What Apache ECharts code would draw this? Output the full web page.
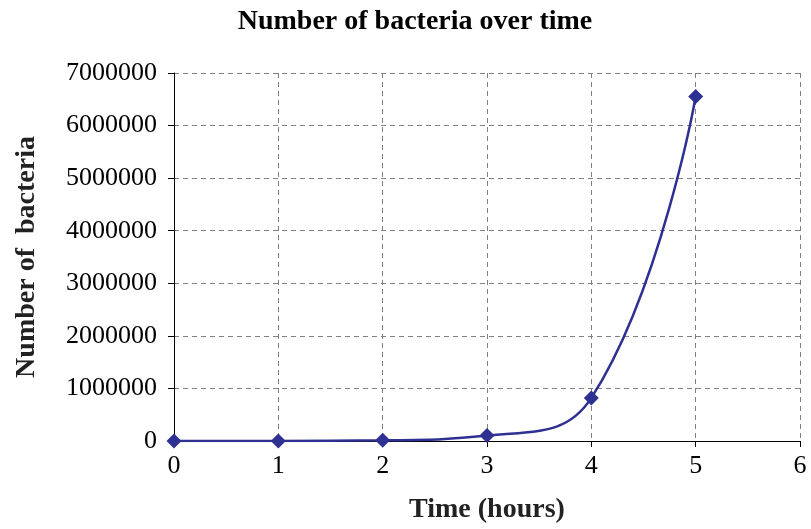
<!DOCTYPE html>
<html>
<head>
<meta charset="utf-8">
<script src="https://cdn.jsdelivr.net/npm/echarts@6/dist/echarts.min.js"></script>
<style>
  html, body { margin: 0; padding: 0; background: #fff; }
  #chart { width: 811px; height: 529px; }
</style>
</head>
<body>
<div id="chart"></div>
<script>
var hours = [0, 1, 2, 3, 4, 5];
var bacteria = [200, 1600, 12800, 102400, 819200, 6553600];
var yTicks = [0, 1000000, 2000000, 3000000, 4000000, 5000000, 6000000, 7000000];

var myChart = echarts.init(document.getElementById('chart'));
var serif = 'Liberation Serif';
var lineColor = '#2E3192';

var points = [];
for (var i = 0; i < hours.length; i++) {
    points.push([hours[i], bacteria[i]]);
}

var option = {
    backgroundColor: '#fff',
    animation: false,
    title: {
        text: 'Number of bacteria over time',
        left: 410,
        top: 3,
        textAlign: 'center',
        textStyle: { fontFamily: serif, fontSize: 28, fontWeight: 'bold', color: '#000' }
    },
    grid: { left: 174, right: 11, top: 73, bottom: 86 },
    xAxis: {
        type: 'value',
        min: 0,
        max: 6,
        interval: 1,
        name: 'Time (hours)',
        nameLocation: 'middle',
        nameGap: 55,
        nameTextStyle: { fontFamily: serif, fontSize: 28, fontWeight: 'bold', color: '#222' },
        axisLine: { show: true, lineStyle: { color: '#000', width: 1 } },
        axisTick: { show: true, length: 6, lineStyle: { color: '#000' } },
        axisLabel: { fontFamily: serif, fontSize: 26, color: '#000', margin: 12 },
        splitLine: { show: true, lineStyle: { color: '#808080', type: [5, 4], width: 1 } }
    },
    yAxis: {
        type: 'value',
        min: 0,
        max: yTicks[yTicks.length - 1],
        interval: yTicks[1] - yTicks[0],
        name: 'Number of  bacteria',
        nameLocation: 'middle',
        nameGap: 133,
        nameTextStyle: { fontFamily: serif, fontSize: 28, fontWeight: 'bold', color: '#222' },
        axisLine: { show: true, lineStyle: { color: '#000', width: 1 } },
        axisTick: { show: true, length: 6, lineStyle: { color: '#000' } },
        axisLabel: {
            fontFamily: serif, fontSize: 26, color: '#000', margin: 17,
            formatter: function (v) { return String(v); }
        },
        splitLine: { show: true, lineStyle: { color: '#808080', type: [5, 4], width: 1 } }
    },
    series: [
        {
            type: 'line',
            data: points,
            smooth: 0.45,
            symbol: 'diamond',
            symbolSize: 15,
            lineStyle: { color: lineColor, width: 2.5 },
            itemStyle: { color: lineColor }
        }
    ]
};
myChart.setOption(option);
</script>
</body>
</html>
